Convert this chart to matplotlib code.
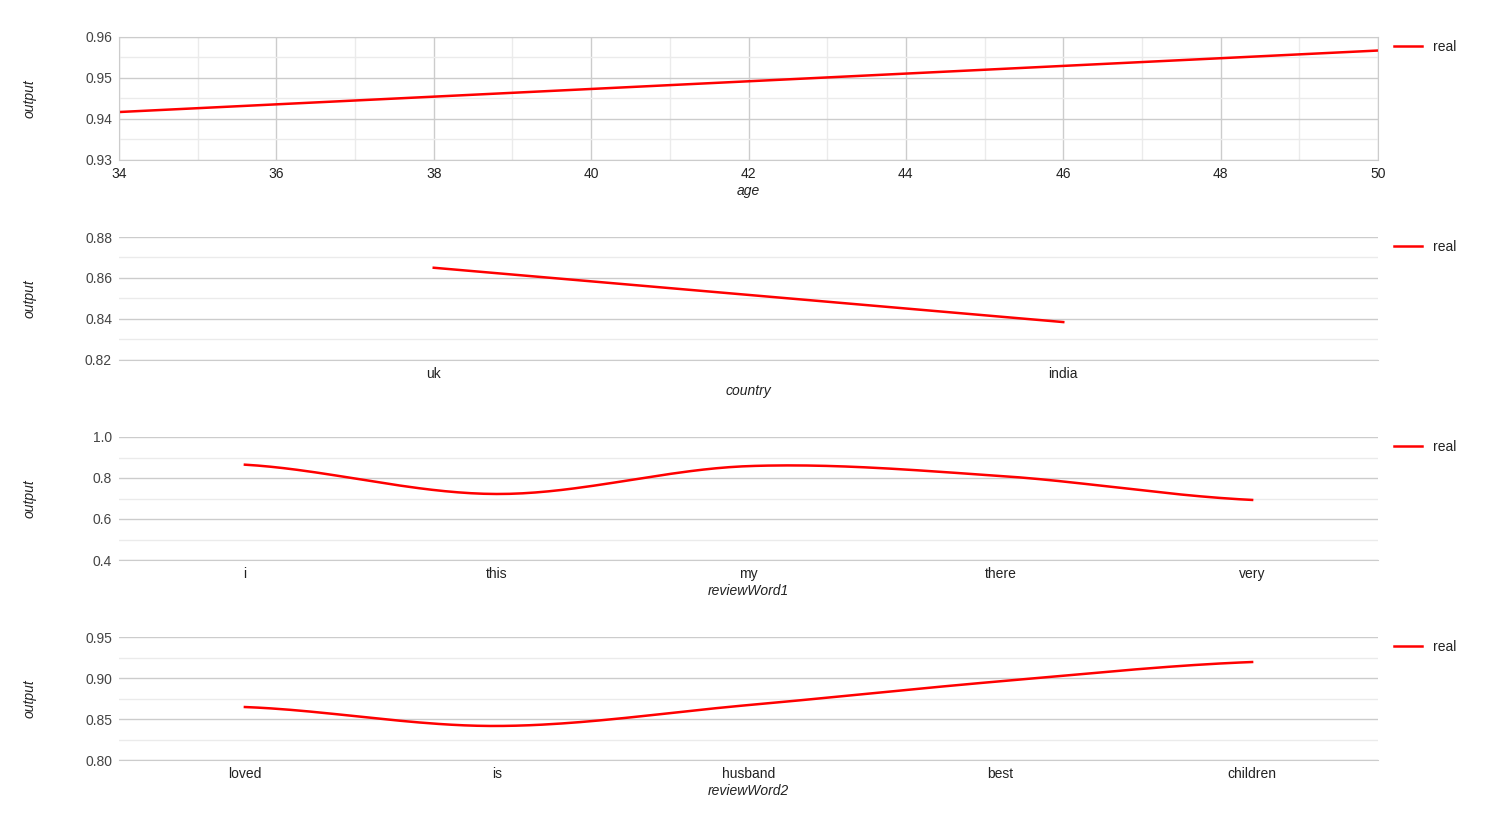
import numpy as np
import matplotlib.pyplot as plt
from matplotlib.ticker import MultipleLocator

# data
age = [34, 50]
age_out = [0.9417, 0.9567]
country = ["uk", "india"]
country_out = [0.865, 0.8385]
word1 = ["i", "this", "my", "there", "very"]
word1_out = [0.865, 0.722, 0.858, 0.810, 0.693]
word2 = ["loved", "is", "husband", "best", "children"]
word2_out = [0.8646, 0.8415, 0.867, 0.896, 0.9195]

W, H = 1505, 831
fig = plt.figure(figsize=(W / 100, H / 100), dpi=100)
plt.rcParams['font.family'] = ['Arial', 'Liberation Sans', 'DejaVu Sans']

def smooth(xs, ys, n=40):
    # hermite curve through the points (drawing only)
    xs = np.asarray(xs, float); ys = np.asarray(ys, float)
    if len(xs) < 3:
        return xs, ys
    k = len(xs)
    m = np.empty(k)
    m[1:-1] = (ys[2:] - ys[:-2]) / 2
    m[0] = (ys[1] - ys[0]) * 0.5
    m[-1] = (ys[-1] - ys[-2]) * 0.5
    px, py = [], []
    for i in range(k - 1):
        t = np.linspace(0, 1, n)
        h00 = 2*t**3 - 3*t**2 + 1; h10 = t**3 - 2*t**2 + t
        h01 = -2*t**3 + 3*t**2; h11 = t**3 - t**2
        px.append(xs[i] + t * (xs[i + 1] - xs[i]))
        py.append(h00*ys[i] + h10*m[i] + h01*ys[i+1] + h11*m[i+1])
    return np.concatenate(px), np.concatenate(py)

def make_ax(top, bottom):
    return fig.add_axes([119 / W, 1 - bottom / H, (1378 - 119) / W, (bottom - top) / H])

panels = [
    (37, 160, "age", None, age, age_out, (0.93, 0.96), 0.01, "%.2f"),
    (237, 360, "country", country, None, country_out, (0.82, 0.88), 0.02, "%.2f"),
    (437, 560, "reviewWord1", word1, None, word1_out, (0.4, 1.0), 0.2, "%.1f"),
    (637, 760, "reviewWord2", word2, None, word2_out, (0.80, 0.95), 0.05, "%.2f"),
]

for top, bottom, xlab, cats, xs, ys, ylim, step, fmt in panels:
    ax = make_ax(top, bottom)
    if cats is None:
        px, py = xs, ys
        ax.set_xlim(34, 50)
        ax.xaxis.set_major_locator(MultipleLocator(2))
        ax.xaxis.set_minor_locator(MultipleLocator(1))
        ax.grid(True, which='major', axis='x', color='#cccccc', lw=1)
        ax.grid(True, which='minor', axis='x', color='#ebebeb', lw=1)
    else:
        idx = np.arange(len(cats))
        px, py = smooth(idx, ys)
        ax.set_xlim(-0.5, len(cats) - 0.5)
        ax.set_xticks(idx)
        ax.set_xticklabels(cats)
    ax.set_ylim(*ylim)
    ax.yaxis.set_major_locator(MultipleLocator(step))
    ax.yaxis.set_minor_locator(MultipleLocator(step / 2))
    ax.yaxis.set_major_formatter(plt.FormatStrFormatter(fmt))
    ax.grid(True, which='major', axis='y', color='#cccccc', lw=1)
    ax.grid(True, which='minor', axis='y', color='#ebebeb', lw=1)
    ax.set_axisbelow(True)
    ax.plot(px, py, color='#ff0000', lw=1.8, label='real')
    for s in ax.spines.values():
        s.set_visible(False)
    ax.spines['bottom'].set_visible(True)
    ax.spines['bottom'].set_color('#cccccc')
    if cats is None:
        for s in ('top', 'left', 'right'):
            ax.spines[s].set_visible(True)
            ax.spines[s].set_color('#cccccc')
    ax.tick_params(which='both', length=0, labelsize=10, colors='#444444', pad=5)
    ax.tick_params(axis='x', colors='#222222')
    ax.set_xlabel(xlab, style='italic', fontsize=10, color='#222222', labelpad=2)
    fig.text(30 / W, 1 - (top + bottom) / 2 / H, "output", rotation=90, style='italic',
             fontsize=10, color='#222222', ha='center', va='center')
    ax.legend(loc='upper left', bbox_to_anchor=(1.003, 1.08), frameon=False,
              handlelength=2.0, fontsize=10, labelcolor='#222222')

fig.savefig("out.png", dpi=100, facecolor='white')
